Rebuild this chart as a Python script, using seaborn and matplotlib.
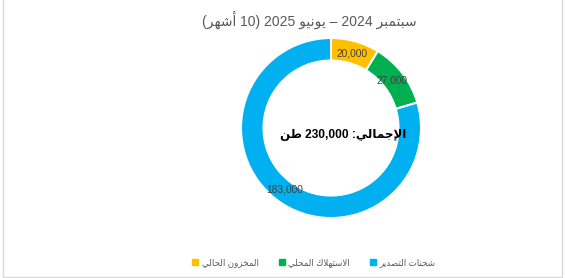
import re
import matplotlib
matplotlib.use("Agg")
import matplotlib.pyplot as plt
from matplotlib.lines import Line2D
import seaborn as sns

# ---------------- data ----------------
categories = ["المخزون الحالي", "الاستهلاك المحلي", "شحنات التصدير"]
values = [20000, 27000, 183000]
colors = ["#FFC000", "#00B050", "#00B0F0"]
title_text = "سبتمبر 2024 – يونيو 2025 (10 أشهر)"
center_text = "الإجمالي: 230,000 طن"

# ---------------- minimal Arabic shaping + RTL ordering ----------------
FORMS = {
    'ا': ('\uFE8D', '\uFE8E', None, None),
    'أ': ('\uFE83', '\uFE84', None, None),
    'إ': ('\uFE87', '\uFE88', None, None),
    'ب': ('\uFE8F', '\uFE90', '\uFE91', '\uFE92'),
    'ت': ('\uFE95', '\uFE96', '\uFE97', '\uFE98'),
    'ج': ('\uFE9D', '\uFE9E', '\uFE9F', '\uFEA0'),
    'ح': ('\uFEA1', '\uFEA2', '\uFEA3', '\uFEA4'),
    'خ': ('\uFEA5', '\uFEA6', '\uFEA7', '\uFEA8'),
    'د': ('\uFEA9', '\uFEAA', None, None),
    'ر': ('\uFEAD', '\uFEAE', None, None),
    'ز': ('\uFEAF', '\uFEB0', None, None),
    'س': ('\uFEB1', '\uFEB2', '\uFEB3', '\uFEB4'),
    'ش': ('\uFEB5', '\uFEB6', '\uFEB7', '\uFEB8'),
    'ص': ('\uFEB9', '\uFEBA', '\uFEBB', '\uFEBC'),
    'ط': ('\uFEC1', '\uFEC2', '\uFEC3', '\uFEC4'),
    'ك': ('\uFED9', '\uFEDA', '\uFEDB', '\uFEDC'),
    'ل': ('\uFEDD', '\uFEDE', '\uFEDF', '\uFEE0'),
    'م': ('\uFEE1', '\uFEE2', '\uFEE3', '\uFEE4'),
    'ن': ('\uFEE5', '\uFEE6', '\uFEE7', '\uFEE8'),
    'ه': ('\uFEE9', '\uFEEA', '\uFEEB', '\uFEEC'),
    'و': ('\uFEED', '\uFEEE', None, None),
    'ي': ('\uFEF1', '\uFEF2', '\uFEF3', '\uFEF4'),
}
LAM_ALEF = {'ا': ('\uFEFB', '\uFEFC'), 'أ': ('\uFEF7', '\uFEF8'),
            'إ': ('\uFEF9', '\uFEFA')}


def _dual(c):
    return c in FORMS and FORMS[c][2] is not None


def shape(s):
    out = []
    i = 0
    while i < len(s):
        c = s[i]
        if c not in FORMS:
            out.append(c)
            i += 1
            continue
        prev = s[i - 1] if i > 0 else ''
        jp = _dual(prev)
        if c == 'ل' and i + 1 < len(s) and s[i + 1] in LAM_ALEF:
            iso, fin = LAM_ALEF[s[i + 1]]
            out.append(fin if jp else iso)
            i += 2
            continue
        nxt = s[i + 1] if i + 1 < len(s) else ''
        jn = _dual(c) and nxt in FORMS
        f = FORMS[c]
        if jp and jn:
            g = f[3]
        elif jp:
            g = f[1]
        elif jn:
            g = f[2]
        else:
            g = f[0]
        out.append(g)
        i += 1
    return ''.join(out)


MIRROR = {'(': ')', ')': '('}


def rtl(s):
    s = shape(s)
    tokens = re.findall(r'\d[\d,.]*\d|\d|.', s)
    return ''.join(MIRROR.get(t, t) for t in reversed(tokens))


# ---------------- style ----------------
sns.set_theme(style="white")
plt.rcParams['font.family'] = ['Liberation Sans', 'DejaVu Sans']

W, H = 565, 278
fig = plt.figure(figsize=(W / 100, H / 100), dpi=100)
fig.patch.set_facecolor("white")

# donut axes: center (331,128) px, radius 90 px
cx, cy, r = 331, 128, 90
ax = fig.add_axes([(cx - r) / W, (H - cy - r) / H, 2 * r / W, 2 * r / H])
total = sum(values)
wedges, _, autotexts = ax.pie(
    values,
    colors=colors,
    startangle=90,
    counterclock=False,
    radius=1.0,
    autopct=lambda p: f"{round(p * total / 100):,}",
    pctdistance=0.86,
    wedgeprops=dict(width=0.25, edgecolor="white", linewidth=1.5),
    textprops=dict(fontsize=7.3, color="#404040"),
)
ax.set_xlim(-1, 1)
ax.set_ylim(-1, 1)
ax.set_aspect("equal")
ax.axis("off")

# title
fig.text(309 / W, 1 - 20 / H, rtl(title_text), ha="center", va="center",
         fontsize=10, color="#595959")

# center total
fig.text(343 / W, 1 - 135 / H, rtl(center_text), ha="center", va="center",
         fontsize=8.6, fontweight="bold", color="black")

# legend
handles = [Line2D([], [], marker="s", linestyle="none", markersize=4.5,
                  markerfacecolor=c, markeredgecolor=c) for c in colors]
leg = fig.legend(handles, [rtl(c) for c in categories], loc="center",
                 bbox_to_anchor=(314 / W, 1 - 263 / H), ncol=3, frameon=False,
                 fontsize=6.3, handlelength=0.6, handletextpad=0.45,
                 columnspacing=2.3, borderpad=0)
for t in leg.get_texts():
    t.set_color("#595959")

# chart border
border_c = "#D9D9D9"
for xs, ys in [([2.5, 2.5], [-2, 276.5]), ([561.5, 561.5], [-2, 276.5]),
               ([2.5, 561.5], [276.5, 276.5])]:
    fig.add_artist(Line2D([x / W for x in xs], [1 - y / H for y in ys],
                          transform=fig.transFigure, color=border_c, lw=1))

fig.savefig("out.png", dpi=100, facecolor="white")
